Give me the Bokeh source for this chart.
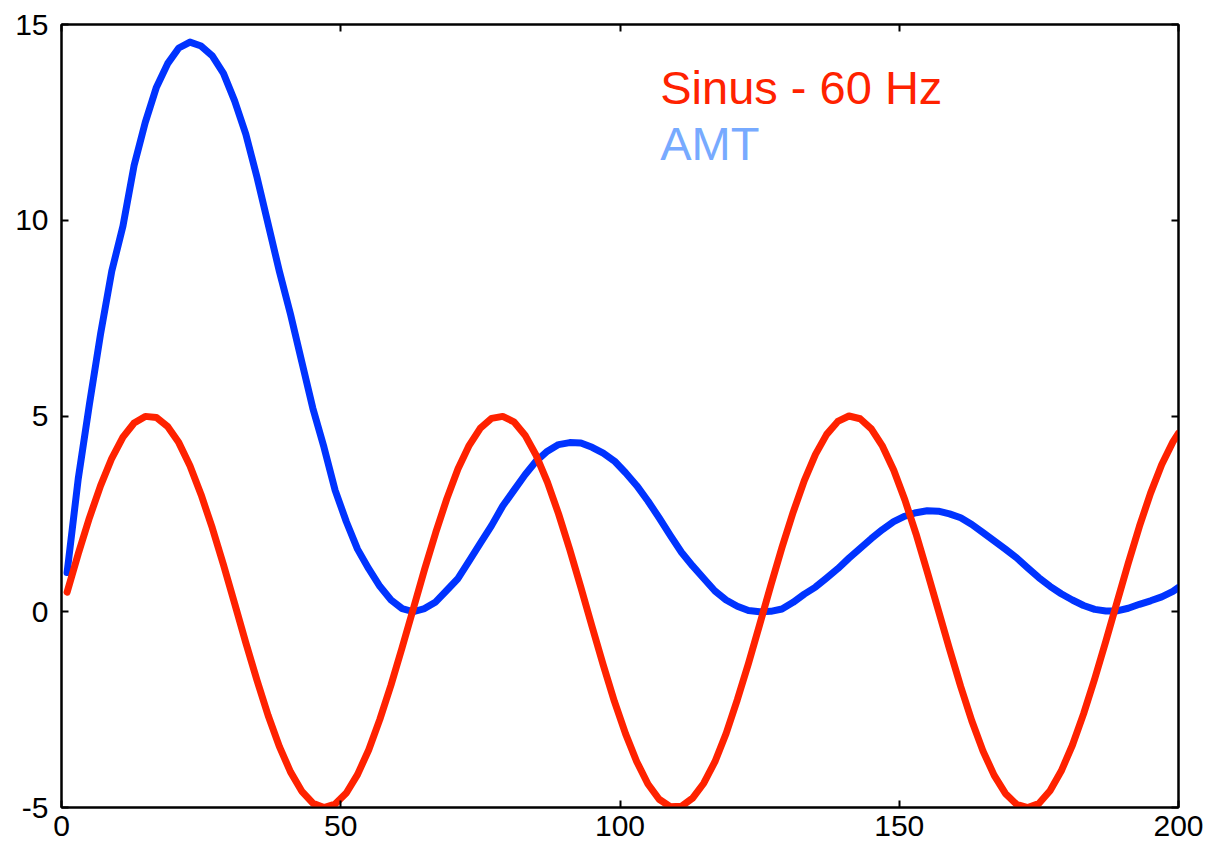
from bokeh.plotting import figure
from bokeh.models import LinearAxis, Range1d, FixedTicker, Label
from bokeh.embed import file_html
from bokeh.resources import INLINE

# sample index (odd samples 1..199, plus the last one)
n = list(range(1, 200, 2)) + [200]

# 60 Hz test sine, amplitude 5
sinus = [
    0.50, 1.48, 2.40, 3.22, 3.92, 4.46, 4.82, 4.99, 4.96, 4.73,
    4.32, 3.73, 2.99, 2.14, 1.20, 0.21, -0.79, -1.75, -2.65, -3.44,
    -4.09, -4.58, -4.89, -5.00, -4.91, -4.63, -4.16, -3.53, -2.75, -1.87,
    -0.91, 0.08, 1.08, 2.02, 2.89, 3.65, 4.25, 4.69, 4.94, 4.99,
    4.85, 4.51, 3.99, 3.31, 2.50, 1.59, 0.62, -0.38, -1.36, -2.29,
    -3.12, -3.83, -4.40, -4.79, -4.98, -4.97, -4.76, -4.38, -3.83, -3.11,
    -2.25, -1.32, -0.33, 0.67, 1.64, 2.54, 3.35, 4.02, 4.53, 4.86,
    5.00, 4.93, 4.67, 4.23, 3.62, 2.86, 1.99, 1.03, 0.04, -0.95,
    -1.91, -2.79, -3.56, -4.18, -4.64, -4.92, -5.00, -4.90, -4.57, -4.07,
    -3.41, -2.61, -1.71, -0.75, 0.25, 1.24, 2.18, 3.03, 3.76, 4.34,
    4.56,
]

# AMT curve of the same signal
amt = [
    1.00, 3.40, 5.30, 7.10, 8.70, 9.85, 11.40, 12.50, 13.40, 14.00,
    14.40, 14.55, 14.45, 14.20, 13.75, 13.05, 12.20, 11.10, 9.90, 8.70,
    7.60, 6.40, 5.20, 4.20, 3.10, 2.30, 1.60, 1.10, 0.65, 0.30,
    0.08, 0.00, 0.08, 0.25, 0.55, 0.85, 1.30, 1.75, 2.20, 2.70,
    3.10, 3.50, 3.85, 4.10, 4.27, 4.32, 4.31, 4.20, 4.05, 3.85,
    3.55, 3.22, 2.83, 2.40, 1.95, 1.52, 1.17, 0.85, 0.53, 0.30,
    0.14, 0.03, 0.00, 0.01, 0.07, 0.24, 0.45, 0.63, 0.86, 1.10,
    1.37, 1.62, 1.87, 2.10, 2.30, 2.44, 2.53, 2.58, 2.57, 2.50,
    2.40, 2.23, 2.02, 1.81, 1.60, 1.38, 1.12, 0.87, 0.65, 0.46,
    0.30, 0.16, 0.06, 0.02, 0.02, 0.09, 0.19, 0.28, 0.38, 0.52,
    0.62,
]

x_ticks = [0, 50, 100, 150, 200]
y_ticks = [-5, 0, 5, 10, 15]
y_tick_labels = {-5: "-5", 0: "0", 5: "5", 10: "10", 15: "15"}

FONT = "Liberation Sans"
RED = "#ff2200"
BLUE = "#0033ff"
LIGHT_BLUE = "#77aaff"

p = figure(
    width=1212, height=844,
    x_range=Range1d(0, 200), y_range=Range1d(-5, 15),
    output_backend="svg", toolbar_location=None,
    x_axis_location=None, y_axis_location=None,
    min_border_left=61, min_border_right=34,
    min_border_top=24, min_border_bottom=37,
)
p.grid.visible = False
p.outline_line_color = "black"
p.outline_line_width = 2
p.background_fill_color = "white"
p.border_fill_color = "white"


def style_axis(ax, ticks, labels=True):
    ax.ticker = FixedTicker(ticks=ticks)
    ax.axis_line_color = "black"
    ax.axis_line_width = 2
    ax.major_tick_in = 7
    ax.major_tick_out = 0
    ax.major_tick_line_width = 2
    ax.minor_tick_line_color = None
    ax.major_label_text_font = FONT
    ax.major_label_text_font_size = "30px"
    ax.major_label_text_color = "black" if labels else None
    ax.major_label_standoff = 10 if labels else 0


bottom = LinearAxis()
style_axis(bottom, x_ticks)
bottom.major_label_standoff = 8
p.add_layout(bottom, "below")

left = LinearAxis()
style_axis(left, y_ticks)
left.major_label_standoff = 13
left.major_label_overrides = y_tick_labels
p.add_layout(left, "left")

# box ticks on the top and right edges, without labels
top = LinearAxis()
style_axis(top, x_ticks, labels=False)
p.add_layout(top, "above")

right = LinearAxis()
style_axis(right, y_ticks, labels=False)
p.add_layout(right, "right")

p.line(n, amt, line_color=BLUE, line_width=7, line_join="round", line_cap="round")
p.line(n, sinus, line_color=RED, line_width=7, line_join="round", line_cap="round")

p.add_layout(Label(x=107.2, y=13.38, text="Sinus - 60 Hz", text_color=RED,
                   text_font=FONT, text_font_size="47px",
                   text_baseline="alphabetic", text_align="left"))
p.add_layout(Label(x=107.2, y=11.95, text="AMT", text_color=LIGHT_BLUE,
                   text_font=FONT, text_font_size="47px",
                   text_baseline="alphabetic", text_align="left"))

open("out.html", "w").write(file_html(p, INLINE))
